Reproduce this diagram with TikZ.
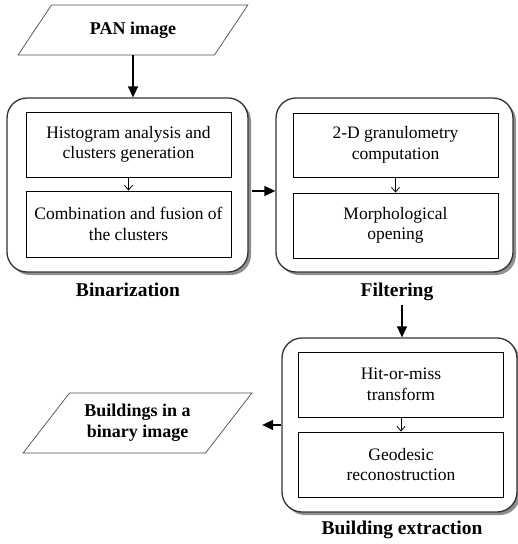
\documentclass[tikz,border=0pt]{standalone}
\usepackage{fontspec}
\setmainfont{Liberation Serif}
\usetikzlibrary{shapes.geometric,shadows,arrows.meta}
\begin{document}
\begin{tikzpicture}[x=1pt,y=-1pt,
  outerbox/.style={draw=black!80, line width=1.3pt, rounded corners=20pt, fill=white,
    drop shadow={shadow xshift=3pt, shadow yshift=-3pt, fill=black!55, opacity=0.8},
    minimum height=174pt, inner sep=0pt},
  innerbox/.style={draw=black, line width=0.9pt, fill=white, minimum width=205pt, inner sep=0pt,
    align=center, font=\fontsize{17.5}{20.5}\selectfont},
  para/.style={trapezium, trapezium stretches=true, draw=black!70, line width=0.7pt,
    inner sep=0pt, align=center, font=\bfseries\fontsize{18}{21}\selectfont},
  steplabel/.style={font=\bfseries\fontsize{19.5}{22}\selectfont, inner sep=0pt},
  bigarrow/.style={line width=1.3pt, -{Triangle[length=11pt,width=10pt]}},
  smallarrow/.style={line width=0.8pt, -{Straight Barb[length=4.5pt,width=8pt]}}
]
\useasboundingbox (0,0) rectangle (518,544);

% input
\node[para, trapezium left angle=43, trapezium right angle=137,
  minimum width=230pt, minimum height=50pt] (pan) at (133,30) {PAN image};

% Binarization
\node[outerbox, minimum width=241pt] (binar) at (127.5,185) {};
\node[innerbox, minimum height=65pt] (hist) at (128.5,144.5) {Histogram analysis and\\clusters generation};
\node[innerbox, minimum height=66pt] (comb) at (128.5,224) {Combination and fusion of\\the clusters};
\node[steplabel] (binlab) at (128,290) {Binarization};

% Filtering
\node[outerbox, minimum width=237pt] (filt) at (394.5,185) {};
\node[innerbox, minimum height=64pt] (gran) at (395.5,145) {2-D granulometry\\computation};
\node[innerbox, minimum height=65pt] (open) at (395.5,225.5) {Morphological\\opening};
\node[steplabel] (filtlab) at (397,292) {Filtering};

% Building extraction
\node[outerbox, minimum width=235pt] (bext) at (399.5,425) {};
\node[innerbox, minimum height=65pt] (hom) at (401,384.5) {Hit-or-miss\\transform};
\node[innerbox, minimum height=65pt] (geo) at (401,464.5) {Geodesic\\reconostruction};
\node[steplabel] (bextlab) at (402,530) {Building extraction};

% output
\node[para, trapezium left angle=46, trapezium right angle=134,
  minimum width=229pt, minimum height=60pt] (out) at (137.5,423) {Buildings in a\\binary image};

% connectors
\draw[bigarrow] (pan.south) -- (pan.south |- binar.north);
\draw[smallarrow] (hist.south) -- (comb.north);
\draw[smallarrow] (gran.south) -- (open.north);
\draw[smallarrow] (hom.south) -- (geo.north);
\draw[bigarrow] ([xshift=3pt,yshift=-6pt]binar.east) -- ([yshift=-6pt]filt.west);
\coordinate (fstart) at (402,305);
\draw[bigarrow] (fstart) -- (fstart |- bext.north);
\draw[bigarrow, shorten >=33pt] (bext.west) -- (bext.west -| out.east);
\end{tikzpicture}
\end{document}
